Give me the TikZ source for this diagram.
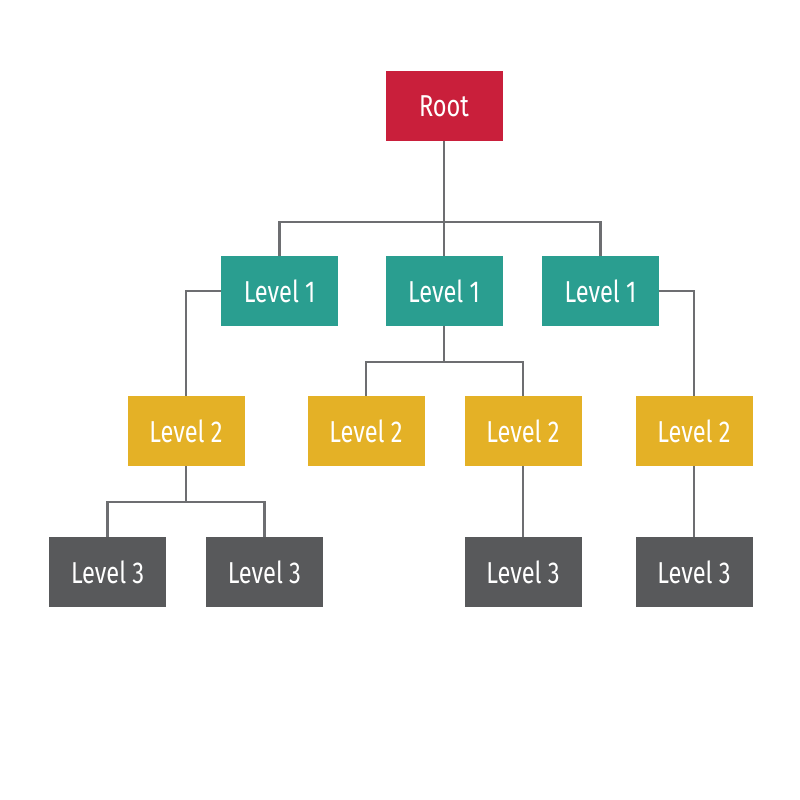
\documentclass[tikz,border=0pt]{standalone}
\usepackage{fontspec}
\setmainfont[FakeStretch=0.78]{Fira Sans}
\usetikzlibrary{calc,positioning}
\definecolor{rootred}{HTML}{C91F3B}
\definecolor{lvlteal}{HTML}{2A9E90}
\definecolor{lvlgold}{HTML}{E4B126}
\definecolor{lvlgray}{HTML}{58595B}
\definecolor{wire}{HTML}{6D6E71}

\begin{document}
\begin{tikzpicture}[
    box/.style={minimum width=2.925cm, minimum height=1.75cm, inner sep=0pt,
      text=white, font=\fontsize{21.5}{23}\selectfont},
    rootbox/.style={box, fill=rootred},
    onebox/.style={box, fill=lvlteal},
    twobox/.style={box, fill=lvlgold},
    threebox/.style={box, fill=lvlgray},
    link/.style={draw=wire, line width=1.8pt}
  ]

    \fill[white] (0,0) rectangle (20,20);

    \node[rootbox](root) at (11.1,17.35) {Root};

    \node[onebox](l1a) at (6.99,12.725) {Level 1};
    \node[onebox](l1b) at (11.1,12.725) {Level 1};
    \node[onebox](l1c) at (15.01,12.725) {Level 1};

    \node[twobox](l2a) at (4.65,9.225) {Level 2};
    \node[twobox](l2b) at (9.15,9.225) {Level 2};
    \node[twobox](l2c) at (13.075,9.225) {Level 2};
    \node[twobox](l2d) at (17.35,9.225) {Level 2};

    \node[threebox](l3a) at (2.69,5.7) {Level 3};
    \node[threebox](l3b) at (6.61,5.7) {Level 3};
    \node[threebox](l3c) at (13.075,5.7) {Level 3};
    \node[threebox](l3d) at (17.35,5.7) {Level 3};

    \coordinate(j0) at (11.1,14.45);
    \coordinate(j1) at (11.1,10.95);
    \coordinate(j2) at (4.65,7.45);

    \draw[link] (root.south) -- (j0);
    \draw[link] (l1a.north) |- (j0) -| (l1c.north);
    \draw[link] (j0) -- (l1b.north);

    \draw[link] (l1a.west) -| (l2a.north);
    \draw[link] (l1c.east) -| (l2d.north);
    \draw[link] (l1b.south) -- (j1);
    \draw[link] (l2b.north) |- (j1) -| (l2c.north);

    \draw[link] (l2a.south) -- (j2);
    \draw[link] (l3a.north) |- (j2) -| (l3b.north);
    \draw[link] (l2c.south) -- (l3c.north);
    \draw[link] (l2d.south) -- (l3d.north);

  \end{tikzpicture}
\end{document}
